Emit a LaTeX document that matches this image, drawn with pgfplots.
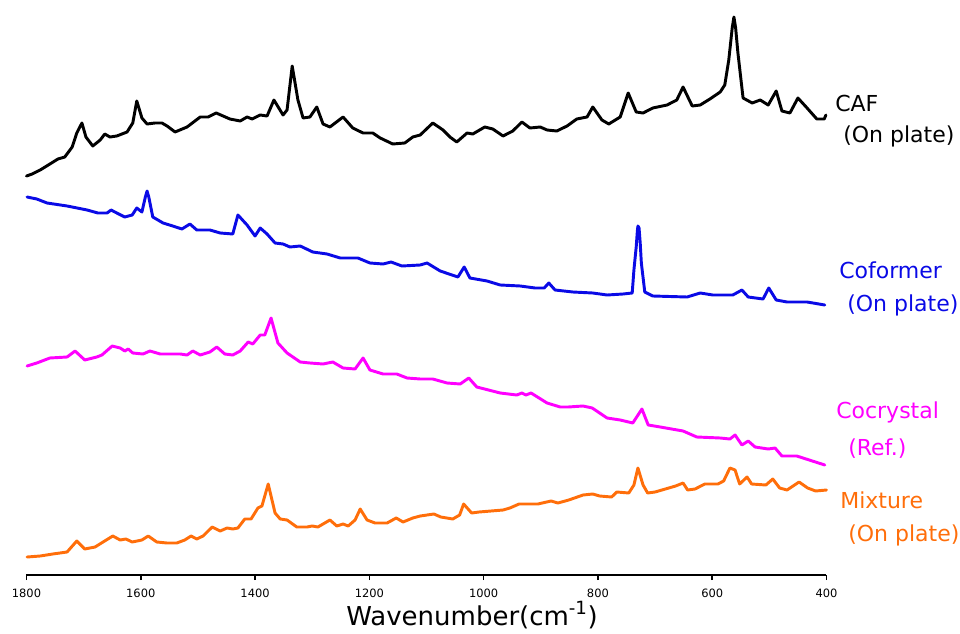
\documentclass[border=0pt]{standalone}
\usepackage{pgfplots}
\pgfplotsset{compat=1.18}
\usepackage{fontspec}
\setmainfont{DejaVu Sans}
\definecolor{cafc}{RGB}{0,0,0}
\definecolor{cofc}{RGB}{10,10,230}
\definecolor{cocc}{RGB}{255,0,255}
\definecolor{mixc}{RGB}{255,110,10}

\pgfplotstableread{
w y
1800 457
1790 459
1776 463
1759 469
1745 474
1733 476
1720 486
1712 500
1703 510
1696 496
1684 487
1671 493
1663 499
1654 496
1642 497
1624 501
1614 510
1607 532
1598 515
1589 509
1575 510
1563 510
1554 507
1540 501
1519 506
1496 516
1482 516
1468 520
1444 514
1426 512
1414 516
1405 514
1391 518
1379 517
1367 533
1351 518
1344 523
1335 567
1325 533
1316 515
1304 516
1292 526
1281 509
1269 506
1246 516
1229 505
1211 500
1194 500
1181 495
1159 489
1138 490
1124 496
1111 498
1089 510
1071 503
1059 496
1047 491
1029 500
1019 499
998 506
984 504
966 497
949 502
933 511
919 505
901 506
889 503
872 502
854 507
837 514
819 516
809 526
793 513
781 509
761 516
747 540
733 521
721 520
704 525
679 528
662 533
651 546
635 527
621 528
604 534
586 541
578 548
571 573
565 605
562 616
559 605
555 580
546 535
530 530
516 533
502 528
488 542
478 522
464 520
450 535
434 525
417 514
404 514
401 518
}\caf

\pgfplotstableread{
w y
1799 436
1782 434
1764 430
1729 427
1694 423
1675 420
1659 420
1652 423
1642 420
1628 416
1615 418
1607 425
1598 421
1592 436
1589 442
1586 436
1579 416
1561 410
1544 407
1528 404
1514 409
1502 403
1479 403
1461 400
1439 399
1430 418
1414 408
1400 397
1391 405
1379 399
1365 390
1351 389
1339 386
1321 387
1299 381
1274 379
1251 375
1220 375
1199 370
1176 369
1162 371
1143 367
1111 368
1099 370
1076 362
1045 356
1034 366
1024 355
994 352
971 348
936 347
910 345
894 345
886 350
875 343
844 341
809 340
784 338
756 339
740 340
737 363
733 386
731 402
730 407
728 405
726 390
724 370
718 341
704 337
644 336
621 340
599 338
564 338
548 343
537 336
511 334
501 345
488 333
469 331
434 331
403 328
}\cof

\pgfplotstableread{
w y
1799 267
1782 270
1759 275
1729 276
1715 282
1698 273
1677 276
1668 278
1650 287
1636 285
1628 282
1622 284
1614 280
1596 279
1584 282
1566 279
1531 279
1519 278
1509 282
1496 278
1479 281
1467 286
1453 279
1439 278
1426 282
1412 291
1404 289
1391 298
1383 298
1372 315
1360 290
1344 280
1321 271
1304 270
1281 269
1264 271
1246 265
1225 264
1211 275
1199 263
1176 259
1152 259
1134 255
1111 254
1089 254
1064 250
1041 249
1026 255
1012 246
971 240
942 238
933 240
926 238
917 240
889 230
866 226
852 226
826 227
810 225
784 215
761 213
739 210
723 224
712 208
691 206
651 202
627 196
586 195
569 194
560 198
548 188
537 192
525 186
502 184
490 185
478 177
452 177
403 168
}\coc

\pgfplotstableread{
w y
1799 76
1776 77
1754 79
1729 81
1712 92
1698 84
1680 86
1666 91
1649 97
1636 93
1626 94
1615 91
1598 93
1587 97
1572 91
1554 90
1537 90
1523 93
1512 97
1502 94
1491 97
1475 106
1461 102
1449 105
1439 104
1430 105
1418 114
1407 114
1395 125
1388 127
1377 149
1365 120
1356 114
1344 113
1327 106
1309 106
1300 107
1290 106
1269 113
1257 107
1246 109
1237 107
1225 113
1216 124
1204 113
1190 110
1169 110
1153 115
1141 111
1124 115
1111 117
1087 119
1075 116
1054 114
1042 118
1035 129
1021 120
1008 121
966 123
954 125
938 129
905 129
882 132
870 130
851 133
826 138
809 139
797 137
776 136
767 141
746 140
737 148
730 165
721 148
713 140
700 141
688 143
664 147
651 150
643 143
630 144
613 149
590 149
580 152
569 165
560 163
552 149
539 156
531 149
506 148
494 154
482 145
469 143
448 151
433 145
419 142
400 143
}\mix

\begin{document}
\begin{tikzpicture}
\path[use as bounding box] (0,0) rectangle (720pt,474.75pt);
\begin{axis}[
  at={(19.875pt,43.5pt)}, anchor=south west,
  scale only axis, width=600pt, height=431.25pt,
  xmin=400, xmax=1800, x dir=reverse,
  ymin=58, ymax=633,
  axis x line=bottom, axis y line=none, ytick=\empty,
  x axis line style={-, line width=1.1pt},
  xtick={400,600,...,1800},
  tick style={line width=1.1pt, black},
  major tick length=3.75pt,
  tick align=outside,
  /pgf/number format/assume math mode=true,
  /pgf/number format/set thousands separator={},
  xticklabel style={font=\fontsize{8.6}{10}\selectfont, anchor=base, yshift=-12.75pt},
  xlabel={Wavenumber(cm\textsuperscript{-1})},
  xlabel style={font=\fontsize{19.5}{22}\selectfont, at={(axis description cs:0.557,-0.087)}, anchor=base},
  clip=false,
  every axis plot/.append style={line width=2.2pt, line join=round, line cap=round},
]
\addplot[cafc, no markers] table[x=w, y=y] {\caf};
\addplot[cofc, no markers] table[x=w, y=y] {\cof};
\addplot[cocc, no markers] table[x=w, y=y] {\coc};
\addplot[mixc, no markers] table[x=w, y=y] {\mix};
\end{axis}
\begin{scope}[every node/.style={anchor=base west, inner sep=0pt, font=\fontsize{16.5}{18}\selectfont}]
\node[text=cafc] at (626.25pt,390.75pt) {CAF};
\node[text=cafc] at (632.25pt,367.5pt) {(On plate)};
\node[text=cofc] at (629.25pt,265.5pt) {Coformer};
\node[text=cofc] at (635.25pt,241.5pt) {(On plate)};
\node[text=cocc] at (627pt,161.25pt) {Cocrystal};
\node[text=cocc] at (636pt,133.5pt) {(Ref.)};
\node[text=mixc] at (630pt,93.75pt) {Mixture};
\node[text=mixc] at (636pt,69pt) {(On plate)};
\end{scope}
\end{tikzpicture}
\end{document}
